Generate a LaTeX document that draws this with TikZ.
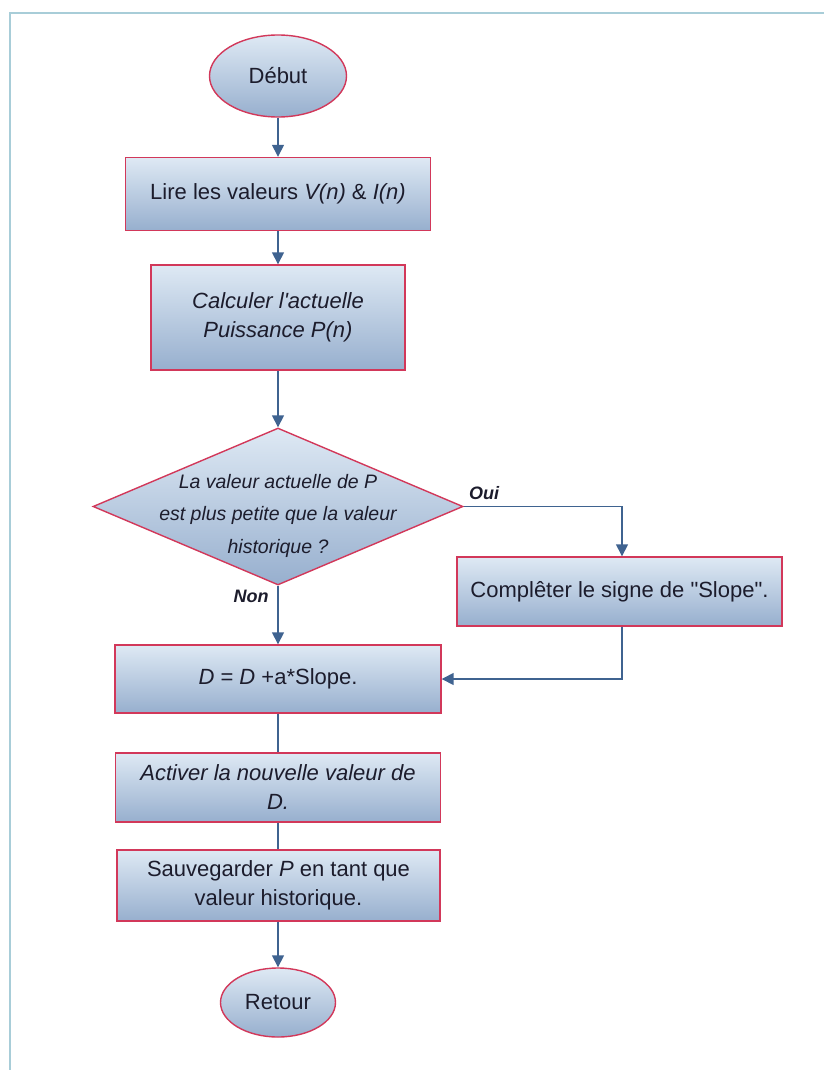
\documentclass[tikz,border=0pt]{standalone}
\usepackage{fontspec}
\setmainfont{Liberation Sans}
\usetikzlibrary{shapes.geometric,arrows.meta}

\definecolor{frameblue}{HTML}{A8CDD8}
\definecolor{edgered}{HTML}{D2385A}
\definecolor{shadetop}{HTML}{DEE9F4}
\definecolor{shadebot}{HTML}{97AFCE}
\definecolor{flowblue}{HTML}{3F6390}
\definecolor{inkdark}{HTML}{1C1C2C}

\tikzset{
  stepbox/.style={rectangle, draw=edgered, line width=1.4pt,
    top color=shadetop, bottom color=shadebot, text=inkdark,
    inner sep=0pt, align=center, font=\fontsize{22}{29}\selectfont},
  terminal/.style={ellipse, draw=edgered, line width=1.4pt,
    top color=shadetop, bottom color=shadebot, text=inkdark,
    inner sep=0pt, font=\fontsize{22}{29}\selectfont},
  decision/.style={diamond, draw=edgered, line width=1.4pt,
    top color=shadetop, bottom color=shadebot, inner sep=0pt},
  flow/.style={draw=flowblue, line width=1.5pt,
    -{Triangle[length=12pt,width=12pt]}},
  link/.style={draw=flowblue, line width=1.5pt},
  branch/.style={text=inkdark, font=\fontsize{18}{22}\selectfont\bfseries\itshape}
}

\begin{document}
\begin{tikzpicture}[x=1pt,y=-1pt]
  \useasboundingbox (0,0) rectangle (824,1070);

  % open frame along the top and left edges
  \draw[frameblue, line width=2.5pt] (10,1070) -- (10,13) -- (824,13);

  % nodes
  \node[terminal, minimum width=137pt, minimum height=82pt] (debut) at (278,76) {Début};
  \node[stepbox, minimum width=305pt, minimum height=73pt] (lire) at (278,194)
    {Lire les valeurs \textit{V(n)} \& \textit{I(n)}};
  \node[stepbox, minimum width=254pt, minimum height=105pt] (calc) at (278,317.5)
    {\itshape Calculer l\textquotesingle actuelle\\\itshape Puissance P(n)};
  \node[decision, minimum width=370pt, minimum height=157pt] (test) at (278,506.5) {};
  \node[text=inkdark, align=center, font=\fontsize{19.5}{32.5}\selectfont\itshape] (testtext)
    at ([yshift=-9pt]test.center)
    {La valeur actuelle de P\\est plus petite que la valeur\\historique ?};
  \node[stepbox, minimum width=325pt, minimum height=69pt] (signe) at (619.5,591.5)
    {Complêter le signe de \textquotedbl Slope\textquotedbl .};
  \node[stepbox, minimum width=326pt, minimum height=68pt] (maj) at (278,679)
    {\textit{D} = \textit{D} +a*Slope.};
  \node[stepbox, minimum width=325pt, minimum height=69pt] (activer) at (278,787.5)
    {\itshape Activer la nouvelle valeur de\\\itshape D.};
  \node[stepbox, minimum width=323pt, minimum height=71pt] (sauve) at (278.5,885.5)
    {Sauvegarder \textit{P} en tant que\\valeur historique.};
  \node[terminal, minimum width=115pt, minimum height=69pt] (retour) at (278,1002.5) {Retour};

  % branch labels
  \node[branch] (oui) at (484,493) {Oui};
  \node[branch] (non) at (251,596) {Non};

  % connectors
  \draw[flow] (debut) -- (lire);
  \draw[flow] (lire) -- (calc);
  \draw[flow] (calc) -- (test.north);
  \draw[flow] (test.east) -| ([xshift=2.5pt]signe.north);
  \draw[flow] (test.south) -- (maj.north);
  \draw[flow] ([xshift=2.5pt]signe.south) |- (maj.east);
  \draw[link] (maj) -- (activer);
  \draw[link] (activer) -- (activer.south |- sauve.north);
  \draw[flow] (sauve.south -| retour.north) -- (retour);
\end{tikzpicture}
\end{document}
